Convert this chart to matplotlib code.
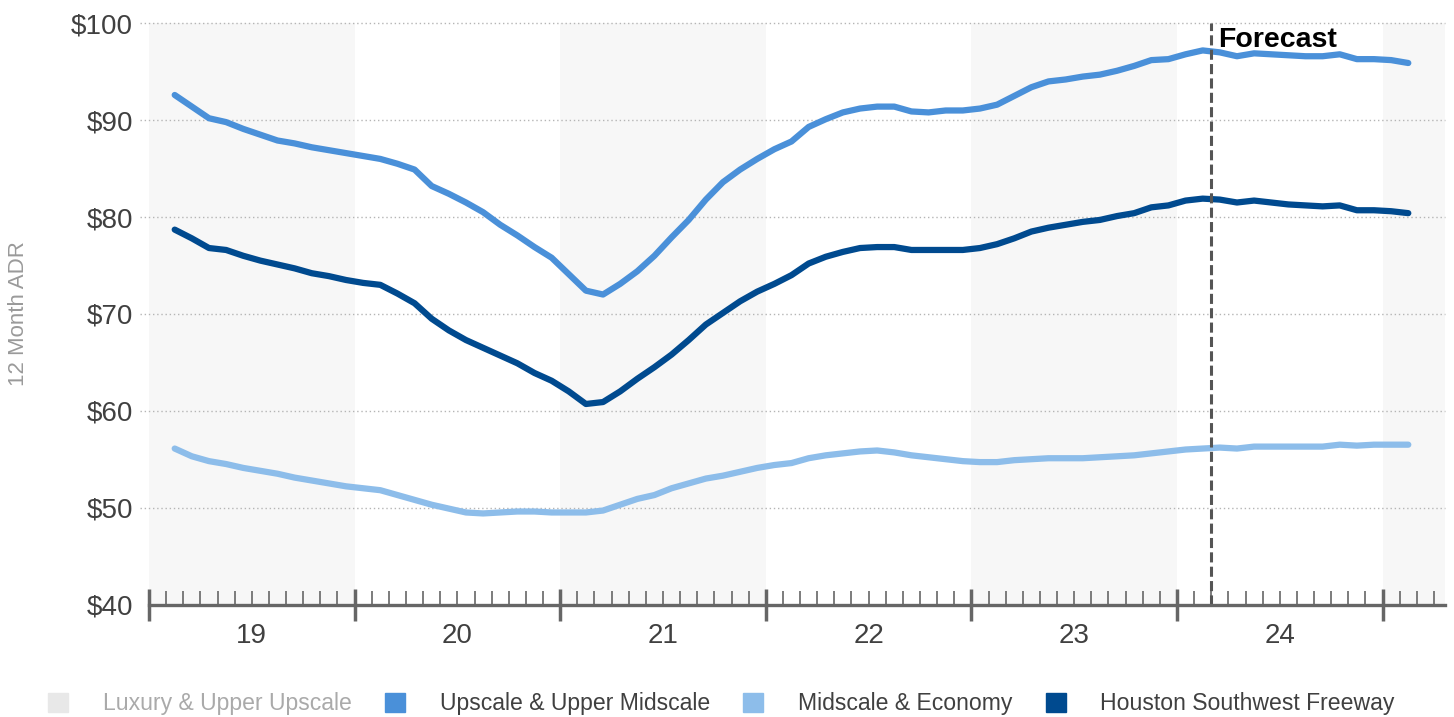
import numpy as np
import matplotlib.pyplot as plt
from matplotlib.patches import Patch

plt.rcParams['font.family'] = ['Liberation Sans', 'DejaVu Sans']

# months since Jan 2019, each value sits mid-month (Feb 2019 .. Feb 2025)
months = np.arange(1, 74) + 0.5

upscale = [92.6, 91.4, 90.2, 89.8, 89.1, 88.5, 87.9, 87.6, 87.2, 86.9,
           86.6, 86.3, 86.0, 85.5, 84.9, 83.2, 82.4, 81.5, 80.5, 79.2,
           78.1, 76.9, 75.8, 74.1, 72.4, 72.0, 73.1, 74.4, 76.0, 77.9,
           79.7, 81.8, 83.6, 84.9, 86.0, 87.0, 87.8, 89.3, 90.1, 90.8,
           91.2, 91.4, 91.4, 90.9, 90.8, 91.0, 91.0, 91.2, 91.6, 92.5,
           93.4, 94.0, 94.2, 94.5, 94.7, 95.1, 95.6, 96.2, 96.3, 96.8,
           97.2, 97.0, 96.6, 96.9, 96.8, 96.7, 96.6, 96.6, 96.8, 96.3,
           96.3, 96.2, 95.9]

midscale = [56.1, 55.3, 54.8, 54.5, 54.1, 53.8, 53.5, 53.1, 52.8, 52.5,
            52.2, 52.0, 51.8, 51.3, 50.8, 50.3, 49.9, 49.5, 49.4, 49.5,
            49.6, 49.6, 49.5, 49.5, 49.5, 49.7, 50.3, 50.9, 51.3, 52.0,
            52.5, 53.0, 53.3, 53.7, 54.1, 54.4, 54.6, 55.1, 55.4, 55.6,
            55.8, 55.9, 55.7, 55.4, 55.2, 55.0, 54.8, 54.7, 54.7, 54.9,
            55.0, 55.1, 55.1, 55.1, 55.2, 55.3, 55.4, 55.6, 55.8, 56.0,
            56.1, 56.2, 56.1, 56.3, 56.3, 56.3, 56.3, 56.3, 56.5, 56.4,
            56.5, 56.5, 56.5]

houston = [78.7, 77.8, 76.8, 76.6, 76.0, 75.5, 75.1, 74.7, 74.2, 73.9,
           73.5, 73.2, 73.0, 72.1, 71.1, 69.5, 68.3, 67.3, 66.5, 65.7,
           64.9, 63.9, 63.1, 62.0, 60.7, 60.9, 62.0, 63.3, 64.5, 65.8,
           67.3, 68.9, 70.1, 71.3, 72.3, 73.1, 74.0, 75.2, 75.9, 76.4,
           76.8, 76.9, 76.9, 76.6, 76.6, 76.6, 76.6, 76.8, 77.2, 77.8,
           78.5, 78.9, 79.2, 79.5, 79.7, 80.1, 80.4, 81.0, 81.2, 81.7,
           81.9, 81.8, 81.5, 81.7, 81.5, 81.3, 81.2, 81.1, 81.2, 80.7,
           80.7, 80.6, 80.4]

years = ["19", "20", "21", "22", "23", "24"]
yticks = [40, 50, 60, 70, 80, 90, 100]
forecast_start = 62  # Mar 2024

legend_labels = ["Luxury & Upper Upscale", "Upscale & Upper Midscale",
                 "Midscale & Economy", "Houston Southwest Freeway"]
colors = ["#e8e8e8", "#4a90d9", "#8dbdea", "#004a8f"]

W, H = 1454, 717
fig = plt.figure(figsize=(W / 100, H / 100), dpi=100)
ax = fig.add_axes([149 / W, (H - 604.5) / H, (1445 - 149) / W, (604.5 - 23.3) / H])

xmax = (1445 - 149) / (205.6 / 12)
ax.set_xlim(0, xmax)
ax.set_ylim(40, 100)

# alternating year shading
for start in range(0, 76, 24):
    ax.axvspan(start, start + 12, color="#f7f7f7", lw=0, zorder=0)

# dotted grid, running slightly past the left edge
for v in yticks[1:]:
    ax.plot([-0.55, xmax], [v, v], color="#b5b5b5", lw=1.0,
            dashes=(1, 2), clip_on=False, zorder=1)

ax.plot(months, upscale, color=colors[1], lw=4.5,
        solid_capstyle="round", solid_joinstyle="round", zorder=3)
ax.plot(months, midscale, color=colors[2], lw=4.5,
        solid_capstyle="round", solid_joinstyle="round", zorder=3)
ax.plot(months, houston, color=colors[3], lw=4.5,
        solid_capstyle="round", solid_joinstyle="round", zorder=3)

ax.axvline(forecast_start, color="#555555", lw=2.2, dashes=(3.3, 1.4), zorder=4)
ax.text(forecast_start + 0.4, 97.6, "Forecast", fontsize=20.5,
        fontweight="bold", color="black", ha="left", va="baseline")

for side in ("top", "right", "left"):
    ax.spines[side].set_visible(False)
ax.spines["bottom"].set_color("#666666")
ax.spines["bottom"].set_linewidth(2.4)
ax.spines["bottom"].set_zorder(5)

ax.set_xticks(np.arange(0, 73, 12))
ax.set_xticks(np.arange(0, 76), minor=True)
ax.tick_params(axis="x", which="major", direction="inout", length=23,
               width=2.5, color="#666666", labelbottom=False)
ax.tick_params(axis="x", which="minor", direction="in", length=10,
               width=1.2, color="#666666")

ax.set_yticks(yticks, [f"${v}" for v in yticks])
ax.tick_params(axis="y", length=0, pad=11.5, labelsize=20, labelcolor="#404040")

# year labels centred inside each year
sec = ax.secondary_xaxis("bottom")
sec.set_xticks(np.arange(len(years)) * 12 + 6, years)
sec.tick_params(length=0, pad=13, labelsize=20, labelcolor="#404040")
sec.spines["bottom"].set_visible(False)

fig.text(0.0124, 0.563, "12 Month ADR", rotation=90, ha="center", va="center",
         fontsize=16, color="#9a9a9a")

handles = [Patch(color=c, label=l) for c, l in zip(colors, legend_labels)]
leg = fig.legend(handles=handles, loc="center", bbox_to_anchor=(0.4962, 0.0185),
                 ncol=4, frameon=False, fontsize=16.6, handlelength=0.87,
                 handleheight=0.87, handletextpad=1.5, columnspacing=1.45)
for i, t in enumerate(leg.get_texts()):
    t.set_color("#aaaaaa" if i == 0 else "#404040")

fig.savefig("out.png", dpi=100)
